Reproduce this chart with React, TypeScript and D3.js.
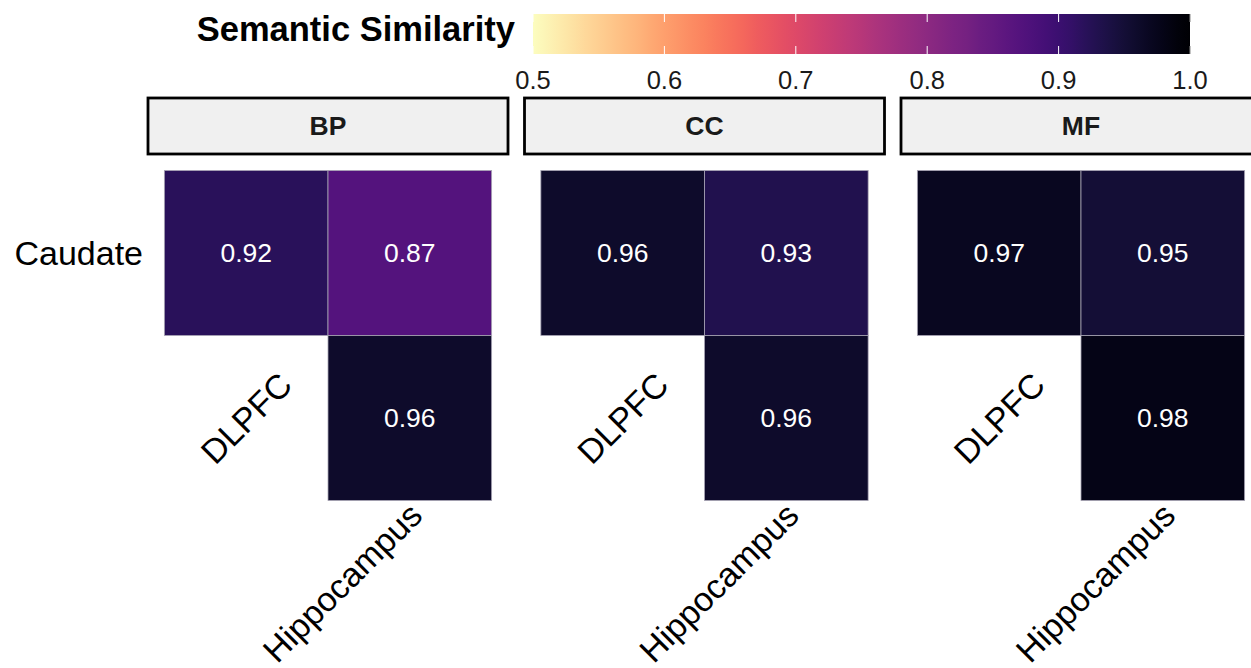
import React from "react";
import * as d3 from "d3";

// Ontology facets and the region pairs compared inside each of them
const ontologies = ["BP", "CC", "MF"];
const columnRegions = ["DLPFC", "Hippocampus"];
const rowRegions = ["Caudate", "DLPFC"];
const pairRow = ["Caudate", "Caudate", "DLPFC"];
const pairCol = ["DLPFC", "Hippocampus", "Hippocampus"];
const bpValues = [0.92, 0.87, 0.96];
const ccValues = [0.96, 0.93, 0.96];
const mfValues = [0.97, 0.95, 0.98];
const legendTicks = [0.5, 0.6, 0.7, 0.8, 0.9, 1.0];
const legendTitle = "Semantic Similarity";

const W = 1251;
const H = 668;
const FONT = "'Liberation Sans', Arial, Helvetica, sans-serif";

const valuesByOntology: Record<string, number[]> = {
  BP: bpValues,
  CC: ccValues,
  MF: mfValues,
};

export default function App() {
  const color = d3.scaleSequential(d3.interpolateMagma).domain([1, 0.5]);

  // facet panels
  const panelStep = 376.5;
  const panelGap = 16.5;
  const panelX = d3
    .scaleBand<string>()
    .domain(ontologies)
    .range([148, 148 + panelStep * ontologies.length - panelGap])
    .paddingInner(panelGap / panelStep);
  const panelW = panelX.bandwidth();
  const stripTop = 98;
  const stripBottom = 154;
  const panelBottom = 517;

  const y = d3
    .scaleBand<string>()
    .domain(rowRegions)
    .range([stripBottom, panelBottom])
    .paddingOuter(0.1)
    .paddingInner(0);

  // colour bar
  const legendX = d3.scaleLinear().domain([0.5, 1]).range([533, 1190]);
  const barTop = 14;
  const barH = 40;
  const gradStops = d3.range(0, 1.0001, 0.02).map((t) => ({
    offset: t,
    c: color(0.5 + t * 0.5),
  }));

  return (
    <svg
      width={W}
      height={H}
      style={{ position: "absolute", left: 0, top: 0, background: "#fff" }}
      fontFamily={FONT}
    >
      <defs>
        <linearGradient id="simGrad" x1="0" x2="1" y1="0" y2="0">
          {gradStops.map((s, i) => (
            <stop key={i} offset={s.offset} stopColor={s.c} />
          ))}
        </linearGradient>
      </defs>

      {/* legend */}
      <text
        x={legendX(0.5) - 18}
        y={41}
        textAnchor="end"
        fontSize={34.5}
        fontWeight="bold"
        fill="#000"
      >
        {legendTitle}
      </text>
      <rect
        x={legendX(0.5)}
        y={barTop}
        width={legendX(1) - legendX(0.5)}
        height={barH}
        fill="url(#simGrad)"
      />
      {legendTicks.map((t) => (
        <g key={t}>
          <line
            x1={legendX(t)}
            x2={legendX(t)}
            y1={barTop}
            y2={barTop + barH / 5}
            stroke={t === 1 ? "#888" : "#fff"}
            strokeWidth={1}
          />
          <line
            x1={legendX(t)}
            x2={legendX(t)}
            y1={barTop + barH - barH / 5}
            y2={barTop + barH}
            stroke={t === 1 ? "#888" : "#fff"}
            strokeWidth={1}
          />
          <text
            x={legendX(t)}
            y={89}
            textAnchor="middle"
            fontSize={25.5}
            fill="#1a1a1a"
          >
            {d3.format(".1f")(t)}
          </text>
        </g>
      ))}

      {/* row axis label on the first facet */}
      {rowRegions.slice(0, 1).map((r) => (
        <text
          key={r}
          x={143}
          y={(y(r) ?? 0) + y.bandwidth() / 2}
          textAnchor="end"
          dominantBaseline="central"
          fontSize={34}
          fill="#000"
        >
          {r}
        </text>
      ))}

      {ontologies.map((ont) => {
        const px = panelX(ont) ?? 0;
        const x = d3
          .scaleBand<string>()
          .domain(columnRegions)
          .range([px, px + panelW])
          .paddingOuter(0.1)
          .paddingInner(0);
        const vals = valuesByOntology[ont];
        const diagX = (x("DLPFC") ?? 0) + x.bandwidth() / 2;
        const diagY = (y("DLPFC") ?? 0) + y.bandwidth() / 2;
        const hipX = (x("Hippocampus") ?? 0) + x.bandwidth() / 2 + 6;
        return (
          <g key={ont}>
            <rect
              x={px}
              y={stripTop}
              width={panelW}
              height={stripBottom - stripTop}
              fill="#f0f0f0"
              stroke="#000"
              strokeWidth={2.8}
            />
            <text
              x={px + panelW / 2}
              y={(stripTop + stripBottom) / 2}
              textAnchor="middle"
              dominantBaseline="central"
              fontSize={26.5}
              fontWeight="bold"
              fill="#1a1a1a"
            >
              {ont}
            </text>
            {vals.map((v, i) => {
              const cx = x(pairCol[i]) ?? 0;
              const cy = y(pairRow[i]) ?? 0;
              return (
                <g key={i}>
                  <rect
                    x={cx}
                    y={cy}
                    width={x.bandwidth()}
                    height={y.bandwidth()}
                    fill={color(v)}
                    stroke="#a9a5b5"
                    strokeWidth={0.8}
                  />
                  <text
                    x={cx + x.bandwidth() / 2}
                    y={cy + y.bandwidth() / 2}
                    textAnchor="middle"
                    dominantBaseline="central"
                    fontSize={26.5}
                    fill="#fff"
                  >
                    {d3.format(".2f")(v)}
                  </text>
                </g>
              );
            })}
            {/* diagonal region labels */}
            <text
              transform={`translate(${diagX},${diagY}) rotate(-45)`}
              textAnchor="middle"
              dominantBaseline="central"
              fontSize={34}
              fill="#000"
            >
              DLPFC
            </text>
            <text
              transform={`translate(${hipX},${panelBottom - 8}) rotate(-45)`}
              textAnchor="end"
              dominantBaseline="central"
              fontSize={34}
              fill="#000"
            >
              Hippocampus
            </text>
          </g>
        );
      })}
    </svg>
  );
}
